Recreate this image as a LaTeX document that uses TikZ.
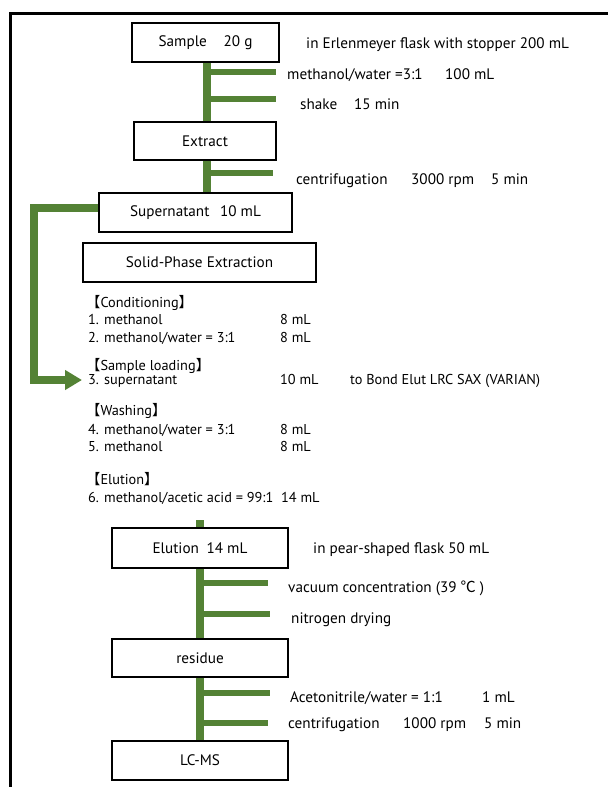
\documentclass[tikz,border=0pt]{standalone}
\usepackage{fontspec}
\setmainfont{PT Sans}
\newfontfamily\cjk{Noto Sans CJK JP}
\usetikzlibrary{arrows.meta}
\definecolor{leaf}{RGB}{84,130,53}
\tikzset{
  box/.style={draw=black, line width=1.6pt, fill=white, inner sep=0pt, font=\fontsize{15.2}{18}\selectfont},
  trunk/.style={draw=leaf, line width=8pt},
  branch/.style={draw=leaf, line width=6pt},
  lab/.style={anchor=west, inner sep=0pt, text height=11pt, text depth=3pt, font=\fontsize{15.2}{18}\selectfont},
  lst/.style={anchor=west, inner sep=0pt, text height=10.5pt, text depth=3pt, font=\fontsize{14.3}{17}\selectfont},
  frame/.style={draw=black, line width=3pt}
}
\newcommand{\lb}{{\cjk【}}
\newcommand{\rb}{{\cjk】}}
\begin{document}
\begin{tikzpicture}[x=1pt,y=-1pt]
\useasboundingbox (0,0) rectangle (608,787);
% frame
\coordinate (f1) at (608,13);
\coordinate (f2) at (10,13);
\coordinate (f3) at (10,787);
\draw[frame] (f1) -- (f2) -- (f3);
% boxes
\node[box, minimum width=147pt, minimum height=39pt] (sample) at (205.5,42.5) {Sample\hspace{1.1em}20 g};
\node[box, minimum width=142pt, minimum height=38pt] (extract) at (205,141) {Extract};
\node[box, minimum width=193pt, minimum height=39pt] (super) at (195.5,212.5) {Supernatant\hspace{0.7em}10 mL};
\node[box, minimum width=233pt, minimum height=39pt] (spe) at (199.5,262.5) {Solid-Phase Extraction};
\node[box, minimum width=176pt, minimum height=40pt] (elu) at (200,548) {Elution\hspace{0.5em}14 mL};
\node[box, minimum width=176pt, minimum height=38pt] (res) at (200,658) {residue};
\node[box, minimum width=176pt, minimum height=39pt] (lcms) at (200,760.5) {LC-MS};
% upper trunk
\coordinate (tx) at (207,0);
\draw[trunk] (sample.south -| tx) -- (extract.north -| tx);
\draw[trunk] (extract.south -| tx) -- (super.north -| tx);
\coordinate (b1) at (276,72);
\coordinate (b2) at (276,99);
\coordinate (b3) at (273,173);
\draw[branch] (b1 -| tx) -- (b1);
\draw[branch] (b2 -| tx) -- (b2);
\draw[branch] (b3 -| tx) -- (b3);
% lower trunk
\coordinate (e0) at (200,520);
\draw[trunk] (e0) -- (elu.north);
\draw[trunk] (elu.south) -- (res.north);
\draw[trunk] (res.south) -- (lcms.north);
\coordinate (c1) at (268,583);
\coordinate (c2) at (270,614);
\coordinate (c3) at (270,693);
\coordinate (c4) at (268,723);
\draw[branch] (c1 -| e0) -- (c1);
\draw[branch] (c2 -| e0) -- (c2);
\draw[branch] (c3 -| e0) -- (c3);
\draw[branch] (c4 -| e0) -- (c4);
% route to sample loading
\coordinate (r1) at (34,208);
\coordinate (r2) at (34,380);
\coordinate (rt) at (82,380);
\draw[trunk, line join=miter, -{Triangle[length=17pt,width=19pt]}] (super.west |- r1) -- (r1) -- (r2) -- (rt);
% right-side labels
\node[lab] (t1) at (306,44) {in Erlenmeyer flask with stopper 200 mL};
\node[lab] (t2) at (287,75) {methanol/water =3:1};
\node[lab] (t2b) at (445,75) {100 mL};
\node[lab] (t3) at (300,105) {shake};
\node[lab] (t3b) at (354,105) {15 min};
\node[lab] (t4) at (296,180) {centrifugation};
\node[lab] (t4b) at (411,180) {3000 rpm};
\node[lab] (t4c) at (491,180) {5 min};
% SPE list
\node[lst] (s1) at (86,304) {\lb Conditioning\rb};
\node[lst] (s2) at (88,321) {1. methanol};
\node[lst] (s2b) at (280,321) {8 mL};
\node[lst] (s3) at (88,339) {2. methanol/water = 3:1};
\node[lst] (s3b) at (280,339) {8 mL};
\node[lst] (s4) at (86,367) {\lb Sample loading\rb};
\node[lst] (s5) at (88,381) {3. supernatant};
\node[lst] (s5b) at (280,381) {10 mL};
\node[lst] (s5c) at (350,381) {to Bond Elut LRC SAX (VARIAN)};
\node[lst] (s6) at (86,412) {\lb Washing\rb};
\node[lst] (s7) at (88,431) {4. methanol/water = 3:1};
\node[lst] (s7b) at (280,431) {8 mL};
\node[lst] (s8) at (88,448) {5. methanol};
\node[lst] (s8b) at (280,448) {8 mL};
\node[lst] (s9) at (86,481) {\lb Elution\rb};
\node[lst] (s10) at (88,499) {6. methanol/acetic acid = 99:1};
\node[lst] (s10b) at (281,499) {14 mL};
% lower labels
\node[lab] (u1) at (313,549) {in pear-shaped flask 50 mL};
\node[lab] (u2) at (288,588) {vacuum concentration (39 {\cjk ℃} )};
\node[lab] (u3) at (291,619) {nitrogen drying};
\node[lab] (u4) at (290,698) {Acetonitrile/water = 1:1};
\node[lab] (u4b) at (482,698) {1 mL};
\node[lab] (u5) at (288,724) {centrifugation};
\node[lab] (u5b) at (403,724) {1000 rpm};
\node[lab] (u5c) at (484,724) {5 min};
\end{tikzpicture}
\end{document}
